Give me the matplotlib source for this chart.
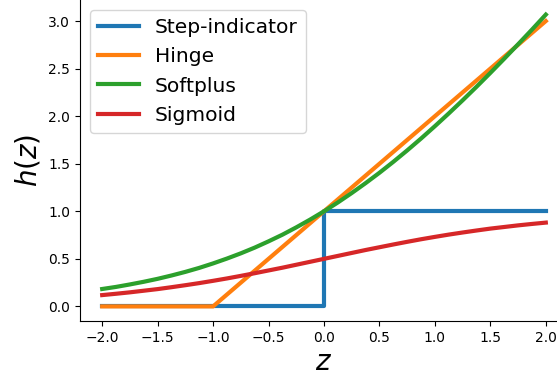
import matplotlib
matplotlib.use("Agg")
import matplotlib.pyplot as plt

# Data
step_z = [-2.0, 0.0, 0.0, 2.0]
step_h = [0.0, 0.0, 1.0, 1.0]

hinge_z = [-2.0, -1.0, 2.0]
hinge_h = [0.0, 0.0, 3.0]

curve_z = [-2.0, -1.875, -1.75, -1.625, -1.5, -1.375, -1.25, -1.125, -1.0,
           -0.875, -0.75, -0.625, -0.5, -0.375, -0.25, -0.125, 0.0,
           0.125, 0.25, 0.375, 0.5, 0.625, 0.75, 0.875, 1.0,
           1.125, 1.25, 1.375, 1.5, 1.625, 1.75, 1.875, 2.0]
softplus_h = [0.183, 0.205, 0.231, 0.259, 0.290, 0.325, 0.363, 0.405, 0.452,
              0.503, 0.558, 0.618, 0.684, 0.754, 0.831, 0.913, 1.000,
              1.093, 1.192, 1.296, 1.405, 1.520, 1.640, 1.765, 1.895,
              2.029, 2.167, 2.309, 2.455, 2.604, 2.756, 2.910, 3.068]
sigmoid_h = [0.119, 0.133, 0.148, 0.165, 0.182, 0.202, 0.223, 0.245, 0.269,
             0.294, 0.321, 0.349, 0.378, 0.407, 0.438, 0.469, 0.500,
             0.531, 0.562, 0.593, 0.622, 0.651, 0.679, 0.706, 0.731,
             0.755, 0.777, 0.798, 0.818, 0.835, 0.852, 0.867, 0.881]

labels = ["Step-indicator", "Hinge", "Softplus", "Sigmoid"]

fig = plt.figure(figsize=(5.57, 3.83), dpi=100)
ax = fig.add_axes([80 / 557, 62 / 383, 488 / 557, 321 / 383])

ax.plot(step_z, step_h, lw=3, color="#1f77b4", label=labels[0])
ax.plot(hinge_z, hinge_h, lw=3, color="#ff7f0e", label=labels[1])
ax.plot(curve_z, softplus_h, lw=3, color="#2ca02c", label=labels[2])
ax.plot(curve_z, sigmoid_h, lw=3, color="#d62728", label=labels[3])

ax.spines["top"].set_visible(False)
ax.spines["right"].set_visible(False)
ax.set_xticks([-2.0, -1.5, -1.0, -0.5, 0.0, 0.5, 1.0, 1.5, 2.0])
ax.set_yticks([0.0, 0.5, 1.0, 1.5, 2.0, 2.5, 3.0])
ax.set_xlabel("$z$", fontsize=20, labelpad=2)
ax.set_ylabel("$h(z)$", fontsize=20)
ax.legend(loc="upper left", fontsize=14.6)

fig.savefig("out.png", dpi=100)
